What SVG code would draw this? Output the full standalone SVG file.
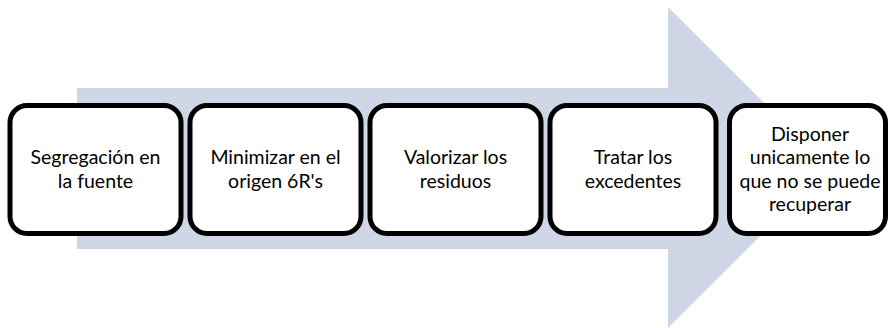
<svg xmlns="http://www.w3.org/2000/svg" width="890" height="328" viewBox="0 0 890 328">
<style>
.box{fill:#ffffff;stroke:#000000;stroke-width:5}
.t{font-family:Lato,"Open Sans",sans-serif;font-size:19.5px;fill:#000000;text-anchor:middle}
</style>
<rect width="890" height="328" fill="#ffffff"/>
<g id="arrow">
<polygon points="77,88 668,88 668,7 829,167.5 668,328 668,249 77,249" fill="#CFD7E6"/>
</g>
<g id="connectors"></g>
<g id="node1">
<rect class="box" x="10" y="105.5" width="171" height="128" rx="17"/>
<text class="t" x="95.5" y="164">Segregación en</text>
<text class="t" x="95.5" y="187.5">la fuente</text>
</g>
<g id="node2">
<rect class="box" x="190" y="105.5" width="171" height="128" rx="17"/>
<text class="t" x="275.5" y="164">Minimizar en el</text>
<text class="t" x="275.5" y="187.5">origen 6R's</text>
</g>
<g id="node3">
<rect class="box" x="370" y="105.5" width="171" height="128" rx="17"/>
<text class="t" x="455.5" y="164">Valorizar los</text>
<text class="t" x="455.5" y="187.5">residuos</text>
</g>
<g id="node4">
<rect class="box" x="550" y="105.5" width="166" height="128" rx="17"/>
<text class="t" x="633" y="164">Tratar los</text>
<text class="t" x="633" y="187.5">excedentes</text>
</g>
<g id="node5">
<rect class="box" x="729.5" y="105.5" width="156" height="128" rx="17"/>
<text class="t" x="810" y="140.5">Disponer</text>
<text class="t" x="810" y="164">unicamente lo</text>
<text class="t" x="810" y="187.5">que no se puede</text>
<text class="t" x="810" y="211">recuperar</text>
</g>
</svg>
